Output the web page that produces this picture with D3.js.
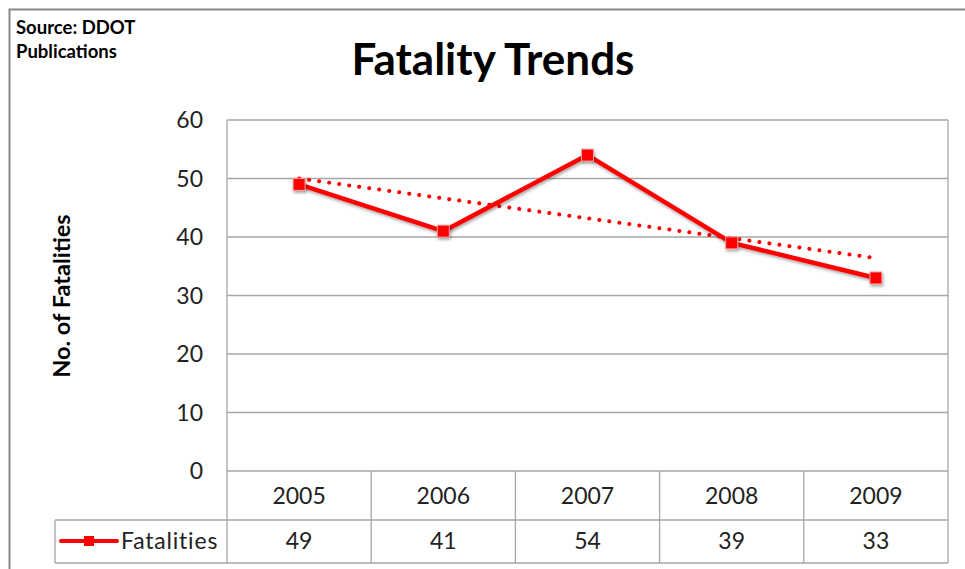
<!DOCTYPE html>
<html><head><meta charset="utf-8">
<script src="https://cdn.jsdelivr.net/npm/d3@7"></script>
<style>body{margin:0;background:#fff}svg{display:block}</style>
</head><body>
<script>
const years = ["2005","2006","2007","2008","2009"];
const fatalities = [49, 41, 54, 39, 33];
const trend = [50, 36.4];
const yTicks = [0, 10, 20, 30, 40, 50, 60];
const seriesName = "Fatalities";
const titleText = "Fatality Trends";
const yLabel = "No. of Fatalities";
const sourceLines = ["Source: DDOT", "Publications"];

const W = 965, H = 569;
const font = "Lato, 'Open Sans', sans-serif";
const svg = d3.select("body").append("svg").attr("width", W).attr("height", H);
svg.append("rect").attr("width", W).attr("height", H).attr("fill", "#fff");

// outer frame
svg.append("rect").attr("x", 9.5).attr("y", 9.5).attr("width", W + 20).attr("height", H + 20)
  .attr("fill", "none").attr("stroke", "#888").attr("stroke-width", 2);

const L = 227, R = 948, T = 120, B = 471;
const x = d3.scaleBand().domain(years).range([L, R]);
const y = d3.scaleLinear().domain([0, 60]).range([B, T]);

// source
svg.append("g").selectAll("text").data(sourceLines).join("text")
  .attr("x", 16).attr("y", (d, i) => 34 + i * 24)
  .attr("font-family", font).attr("font-weight", "bold").attr("font-size", 18.5).attr("fill", "#000")
  .text(d => d);

// title
svg.append("text").attr("x", 493).attr("y", 75).attr("text-anchor", "middle")
  .attr("font-family", font).attr("font-weight", "bold").attr("font-size", 44).text(titleText);

// gridlines
svg.append("g").selectAll("line").data(yTicks).join("line")
  .attr("x1", L).attr("x2", R).attr("y1", d => y(d)).attr("y2", d => y(d))
  .attr("stroke", "#a6a6a6").attr("stroke-width", 1.3);

// y tick labels
svg.append("g").selectAll("text").data(yTicks).join("text")
  .attr("x", 203).attr("y", d => y(d)).attr("dy", "0.35em").attr("text-anchor", "end")
  .attr("font-family", font).attr("font-size", 23).attr("fill", "#222").text(d => d);

// y label
svg.append("text").attr("transform", `translate(70,296) rotate(-90)`).attr("text-anchor", "middle")
  .attr("font-family", font).attr("font-weight", "bold").attr("font-size", 23.5).text(yLabel);

// data table
const rowMid = 520, tableBot = 563, legL = 55;
const tg = svg.append("g").attr("stroke", "#a6a6a6").attr("stroke-width", 1.3);
tg.append("line").attr("x1", L).attr("x2", L).attr("y1", T).attr("y2", tableBot);
tg.append("line").attr("x1", legL).attr("x2", R).attr("y1", rowMid).attr("y2", rowMid);
tg.append("line").attr("x1", legL).attr("x2", R).attr("y1", tableBot).attr("y2", tableBot);
tg.append("line").attr("x1", legL).attr("x2", legL).attr("y1", rowMid).attr("y2", tableBot);
tg.selectAll("line.col").data(years).join("line").attr("class", "col")
  .attr("x1", d => x(d) + x.bandwidth()).attr("x2", d => x(d) + x.bandwidth())
  .attr("y1", B).attr("y2", tableBot);
tg.append("line").attr("x1", R).attr("x2", R).attr("y1", T).attr("y2", B);

svg.append("g").selectAll("text").data(years).join("text")
  .attr("x", d => x(d) + x.bandwidth() / 2).attr("y", 496).attr("dy", "0.35em").attr("text-anchor", "middle")
  .attr("font-family", font).attr("font-size", 23).attr("fill", "#222").text(d => d);
svg.append("g").selectAll("text").data(fatalities).join("text")
  .attr("x", (d, i) => x(years[i]) + x.bandwidth() / 2).attr("y", 541).attr("dy", "0.35em").attr("text-anchor", "middle")
  .attr("font-family", font).attr("font-size", 23).attr("fill", "#222").text(d => d);

// legend
svg.append("line").attr("x1", 61).attr("x2", 117).attr("y1", 541).attr("y2", 541)
  .attr("stroke", "#ff0000").attr("stroke-width", 4).attr("stroke-linecap", "round");
svg.append("rect").attr("x", 84).attr("y", 536).attr("width", 10).attr("height", 10).attr("fill", "#ff0000");
svg.append("text").attr("x", 121).attr("y", 541).attr("dy", "0.35em")
  .attr("font-family", font).attr("font-size", 23).attr("letter-spacing", 0.8).attr("fill", "#222").text(seriesName);

// shadow filter
const defs = svg.append("defs");
const f = defs.append("filter").attr("id", "sh").attr("x", "-50%").attr("y", "-50%").attr("width", "200%").attr("height", "200%");
f.append("feDropShadow").attr("dx", 1).attr("dy", 2).attr("stdDeviation", 1.5).attr("flood-color", "#000").attr("flood-opacity", 0.35);

const cx = d => x(d) + x.bandwidth() / 2;

// trend line
svg.append("line")
  .attr("x1", cx(years[0])).attr("y1", y(trend[0]))
  .attr("x2", cx(years[years.length - 1])).attr("y2", y(trend[1]))
  .attr("stroke", "#ff0000").attr("stroke-width", 4).attr("stroke-linecap", "round")
  .attr("stroke-dasharray", "0.1 10");

// series line
const line = d3.line().x((d, i) => cx(years[i])).y(d => y(d));
svg.append("path").datum(fatalities).attr("d", line).attr("fill", "none")
  .attr("stroke", "#ff0000").attr("stroke-width", 4.5).attr("stroke-linejoin", "round").attr("filter", "url(#sh)");

svg.append("g").selectAll("rect").data(fatalities).join("rect")
  .attr("x", (d, i) => cx(years[i]) - 6).attr("y", d => y(d) - 6)
  .attr("width", 12).attr("height", 12).attr("fill", "#ff0000").attr("stroke", "#f4a0a0").attr("stroke-width", 1)
  .attr("filter", "url(#sh)");
</script>
</body></html>
